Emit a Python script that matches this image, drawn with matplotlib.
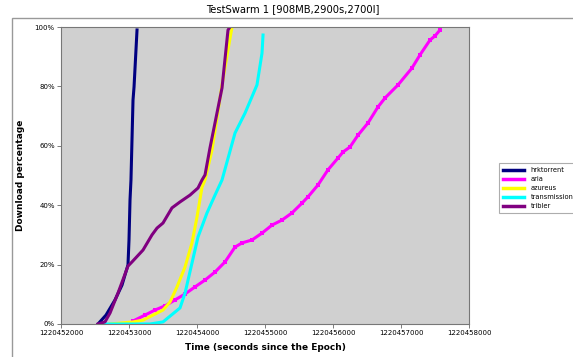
import matplotlib
matplotlib.use('Agg')
import matplotlib.pyplot as plt
from matplotlib.patches import Rectangle

T0 = 1220452000

# time offsets (seconds after T0) and download percentage per client
hrk_t = [544, 662, 794, 897, 985, 1000, 1015, 1029, 1044, 1059, 1074, 1118]
hrk_p = [0, 3.0, 8.1, 13.1, 19.9, 28.3, 41.8, 48.5, 62.0, 75.4, 79.8, 99.0]

aria_t = [1059, 1235, 1382, 1529, 1676, 1824, 1971, 2118, 2265, 2412, 2559,
          2662, 2809, 2956, 3103, 3250, 3397, 3544, 3632, 3779, 3926, 4074,
          4147, 4250, 4368, 4515, 4662, 4765, 4956, 5162, 5279, 5426, 5500, 5574]
aria_p = [1.0, 3.0, 4.7, 6.1, 8.1, 10.1, 12.5, 14.8, 17.5, 20.9, 25.9,
          27.3, 28.3, 30.6, 33.3, 35.0, 37.4, 40.7, 42.8, 46.8, 51.9, 55.9,
          57.9, 59.6, 63.6, 67.7, 73.1, 76.1, 80.5, 86.2, 90.6, 95.6, 97.0, 99.0]

azu_t = [720, 1059, 1206, 1353, 1500, 1603, 1706, 1824, 1926, 2000, 2074,
         2118, 2221, 2368, 2456, 2515]
azu_p = [0, 0.7, 1.3, 3.0, 4.7, 7.4, 12.5, 19.2, 27.3, 36.0, 46.1,
         48.5, 58.6, 80.5, 92.3, 100]

trans_t = [647, 1309, 1500, 1750, 1824, 1926, 2015, 2147, 2265, 2368, 2559,
           2706, 2882, 2956, 2971]
trans_p = [0, 0, 0.7, 5.4, 10.4, 20.5, 29.3, 37.4, 43.4, 48.5, 64.3,
           71.0, 80.5, 91.2, 97.3]

trib_t = [544, 647, 721, 838, 985, 1044, 1206, 1338, 1412, 1500, 1632, 1750,
          1897, 2015, 2074, 2118, 2191, 2368, 2456, 2485]
trib_p = [0, 0.7, 3.7, 10.4, 19.5, 20.9, 24.9, 30.0, 32.3, 34.0, 39.1, 41.1,
          43.4, 45.8, 48.5, 50.2, 59.3, 79.5, 99.0, 100]

x_ticks = [1220452000, 1220453000, 1220454000, 1220455000,
           1220456000, 1220457000, 1220458000]
y_ticks = [0, 20, 40, 60, 80, 100]

fig = plt.figure(figsize=(5.73, 3.57), dpi=100)
fig.patches.append(Rectangle((12 / 573, -0.01), 1.0, 1 - 18 / 357 + 0.01,
                             transform=fig.transFigure, fill=False,
                             edgecolor='#999999', linewidth=1.0))
fig.text(0.511, 0.975, 'TestSwarm 1 [908MB,2900s,2700l]', ha='center',
         va='center', fontsize=7.2)

ax = fig.add_axes([61 / 573, 33 / 357, 408 / 573, 297 / 357])
ax.set_facecolor('#d0d0d0')

lw = 2.2
ax.plot([T0 + t for t in hrk_t], hrk_p, color='#000080', lw=lw, label='hrktorrent')
ax.plot([T0 + t for t in aria_t], aria_p, color='#ff00ff', lw=lw, marker='s',
        markersize=2.4, markeredgewidth=0, label='aria')
ax.plot([T0 + t for t in azu_t], azu_p, color='#ffff00', lw=lw, label='azureus')
ax.plot([T0 + t for t in trans_t], trans_p, color='#00ffff', lw=lw, label='transmission')
ax.plot([T0 + t for t in trib_t], trib_p, color='#800080', lw=lw, label='tribler')

ax.set_xlim(x_ticks[0], x_ticks[-1])
ax.set_ylim(0, 100)
ax.set_xticks(x_ticks)
ax.set_xticklabels([str(v) for v in x_ticks], fontsize=5)
ax.set_yticks(y_ticks)
ax.set_yticklabels([f'{v}%' for v in y_ticks], fontsize=5)
ax.tick_params(direction='out', length=3, width=0.6, color='#666666', pad=1.5)
for s in ax.spines.values():
    s.set_color('#777777')
    s.set_linewidth(0.8)

ax.set_xlabel('Time (seconds since the Epoch)', fontsize=6.5, fontweight='bold', labelpad=5)
ax.set_ylabel('Download percentage', fontsize=6.5, fontweight='bold', labelpad=7)

leg = fig.legend(loc='upper left', bbox_to_anchor=(499 / 573, 1 - 163 / 357),
                 fontsize=4.8, frameon=True, fancybox=False, shadow=False,
                 handlelength=3.2, handletextpad=0.9, borderpad=0.6,
                 labelspacing=0.45, borderaxespad=0)
leg.get_frame().set_edgecolor('#999999')
leg.get_frame().set_linewidth(0.8)
for h in leg.get_lines():
    h.set_marker('')
    h.set_linewidth(2.5)

fig.savefig('out.png', dpi=100)
